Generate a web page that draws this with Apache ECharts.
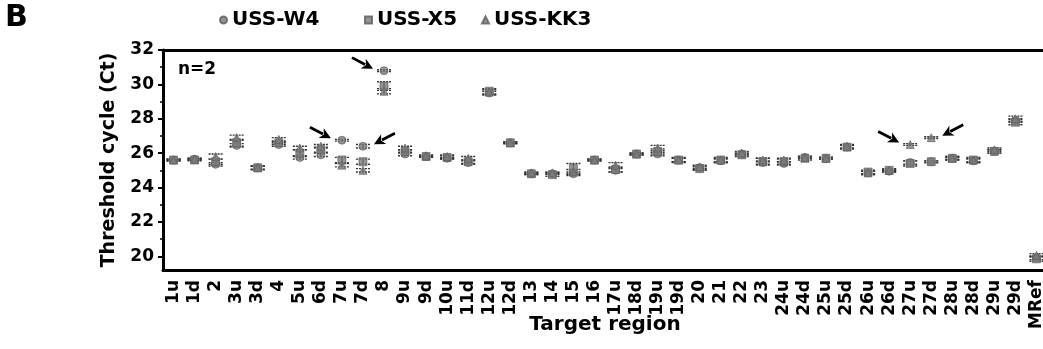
<!DOCTYPE html>
<html><head><meta charset="utf-8">
<script src="https://cdn.jsdelivr.net/npm/echarts@6/dist/echarts.min.js"></script>
<style>html,body{margin:0;padding:0;background:#fff}#c{width:1043px;height:349px}</style>
</head><body><div id="c"></div>
<script>
const categories = ['1u','1d','2','3u','3d','4','5u','6d','7u','7d','8','9u','9d','10u','11d','12u','12d','13','14','15','16','17u','18d','19u','19d','20','21','22','23','24u','24d','25u','25d','26u','26d','27u','27d','28u','28d','29u','29d','MRef'];
const w4 =   [25.6,25.65,25.35,26.45,25.15,26.5,25.75,25.9,26.75,26.4,30.8,25.95,25.8,25.7,25.45,29.5,26.6,24.8,24.8,24.8,25.6,25.0,25.95,25.95,25.6,25.15,25.55,25.95,25.45,25.4,25.75,25.7,26.35,24.85,24.95,25.45,25.5,25.7,25.55,26.1,27.9,19.9];
const x5 =   [25.6,25.6,25.5,26.6,25.15,26.6,26.0,26.2,25.6,25.5,29.9,26.1,25.8,25.75,25.5,29.6,26.6,24.8,24.75,25.1,25.6,25.05,25.95,26.1,25.6,25.1,25.6,25.9,25.5,25.5,25.7,25.7,26.35,24.9,25.0,25.4,25.5,25.7,25.6,26.1,27.8,19.85];
const kk3 =  [25.6,25.65,25.8,26.9,25.15,26.8,26.3,26.4,25.3,25.0,29.6,26.3,25.85,25.8,25.7,29.55,26.6,24.85,24.85,24.9,25.6,25.3,25.95,26.3,25.6,25.2,25.6,26.0,25.6,25.6,25.75,25.7,26.4,24.85,25.0,26.5,26.9,25.7,25.6,26.2,28.0,20.05];
const w4Err =  [0.05,0.05,0.1,0.1,0.1,0.1,0.1,0.1,0.05,0.1,0.05,0.1,0.05,0.05,0.1,0.1,0.05,0.05,0.05,0.1,0.05,0.1,0.05,0.1,0.1,0.1,0.1,0.05,0.1,0.1,0.05,0.05,0.1,0.1,0.05,0.1,0.05,0.05,0.1,0.1,0.1,0.1];
const x5Err =  [0.05,0.05,0.15,0.2,0.1,0.1,0.2,0.15,0.15,0.15,0.25,0.1,0.05,0.1,0.1,0.15,0.05,0.05,0.1,0.3,0.05,0.15,0.05,0.15,0.15,0.1,0.15,0.1,0.2,0.15,0.1,0.05,0.1,0.1,0.1,0.15,0.05,0.1,0.15,0.1,0.15,0.15];
const kk3Err = [0.05,0.05,0.15,0.15,0.1,0.1,0.1,0.1,0.1,0.1,0.15,0.1,0.05,0.1,0.1,0.15,0.05,0.05,0.05,0.15,0.05,0.15,0.05,0.15,0.1,0.1,0.1,0.1,0.1,0.1,0.05,0.05,0.1,0.1,0.05,0.05,0.05,0.1,0.1,0.1,0.15,0.1];
const yTicks = [20,22,24,26,28,30,32];
const yMinorTicks = [21,23,25,27,29,31];
const arrowCats = ['8','7u','7d','27u','27d'];
const arrowVals = [30.8,26.75,26.4,26.5,26.9];
const arrowDirs = [-1,-1,1,-1,1];

const FONT = 'DejaVu Sans';
const chart = echarts.init(document.getElementById('c'), null, {renderer:'canvas'});

function errSeries(vals, errs){
  return {
    type:'custom', silent:true, z:3, xAxisIndex:0, yAxisIndex:0,
    encode:{x:0, y:[1,2]},
    data: vals.map((v,i)=>[i, v-errs[i], v+errs[i]]),
    renderItem(params, api){
      const x = api.value(0);
      const lo = api.coord([x, api.value(1)]);
      const hi = api.coord([x, api.value(2)]);
      const hw = 7;
      const st = {stroke:'#333', lineWidth:1.4};
      return {type:'group', children:[
        {type:'line', shape:{x1:lo[0],y1:lo[1],x2:hi[0],y2:hi[1]}, style:st},
        {type:'line', shape:{x1:lo[0]-hw,y1:lo[1],x2:lo[0]+hw,y2:lo[1]}, style:Object.assign({lineDash:[2,1]},st)},
        {type:'line', shape:{x1:hi[0]-hw,y1:hi[1],x2:hi[0]+hw,y2:hi[1]}, style:Object.assign({lineDash:[2,1]},st)}
      ]};
    }
  };
}
function scatter(name, vals, symbol, size){
  return {type:'scatter', name, data: vals, symbol, symbolSize:size, z:4,
    itemStyle:{color:'#7a7a7a', borderColor:'#5a5a5a', borderWidth:0.8}};
}
const legTxt = {fontFamily:FONT, fontWeight:'bold', fontSize:20, color:'#000'};
function leg(name, left){
  return {data:[name], left, top:5, itemWidth:7, itemHeight:7, itemGap:5, textStyle:legTxt, selectedMode:false};
}

const option = {
  animation:false,
  backgroundColor:'#fff',
  grid:{left:163, top:50, bottom:79, right:-4, containLabel:false, outerBoundsMode:'none'},
  legend:[leg('USS-W4',214), leg('USS-X5',359), leg('USS-KK3',476)],
  xAxis:[{
    type:'category', data:categories, boundaryGap:true,
    axisLine:{lineStyle:{color:'#000', width:3}},
    axisTick:{alignWithLabel:true, length:5, lineStyle:{color:'#000', width:2}},
    axisLabel:{rotate:90, interval:0, margin:10, fontFamily:FONT, fontWeight:'bold', fontSize:17, color:'#000'},
    name:'Target region', nameLocation:'middle', nameGap:45, nameMoveOverlap:false,
    nameTextStyle:{fontFamily:FONT, fontWeight:'bold', fontSize:20, color:'#000'},
    splitLine:{show:false}
  },{
    type:'category', data:categories, position:'top', boundaryGap:true,
    axisLine:{lineStyle:{color:'#000', width:3}}, axisTick:{show:false}, axisLabel:{show:false}
  }],
  yAxis:[{
    type:'value', min:19.2, max:32,
    axisLine:{show:true, lineStyle:{color:'#000', width:3}},
    axisTick:{show:true, length:5, customValues:yTicks, lineStyle:{color:'#000', width:2}},
    axisLabel:{customValues:yTicks, margin:9, fontFamily:FONT, fontWeight:'bold', fontSize:17, color:'#000'},
    splitLine:{show:false},
    name:'Threshold cycle (Ct)', nameLocation:'middle', nameGap:44,
    nameTextStyle:{fontFamily:FONT, fontWeight:'bold', fontSize:19, color:'#000'}
  },{
    type:'value', min:19.2, max:32, position:'left',
    axisLine:{show:false},
    axisTick:{show:true, length:3, customValues:yMinorTicks, lineStyle:{color:'#000', width:1.5}},
    axisLabel:{show:false}, splitLine:{show:false}
  }],
  graphic:[
    {type:'text', left:5, top:3, style:{text:'B', fontFamily:FONT, fontWeight:'bold', fontSize:30, fill:'#000'}},
    {type:'text', left:178, top:61, style:{text:'n=2', fontFamily:FONT, fontWeight:'bold', fontSize:17, fill:'#000'}}
  ],
  series:[
    errSeries(w4, w4Err), errSeries(x5, x5Err), errSeries(kk3, kk3Err),
    scatter('USS-W4', w4, 'circle', 8),
    scatter('USS-X5', x5, 'rect', 8),
    scatter('USS-KK3', kk3, 'triangle', 8),
    {
      type:'custom', silent:true, z:5,
      data: arrowCats.map((c,i)=>[categories.indexOf(c), arrowVals[i], arrowDirs[i]]),
      encode:{x:0, y:1},
      renderItem(params, api){
        const p = api.coord([api.value(0), api.value(1)]);
        const d = api.value(2);
        const tip = [p[0]+d*11, p[1]-2];
        const tail = [p[0]+d*32, p[1]-13];
        let ux = tip[0]-tail[0], uy = tip[1]-tail[1];
        const len = Math.hypot(ux,uy); ux/=len; uy/=len;
        const L = 11, W = 5.5;
        const bx = tip[0]-ux*L, by = tip[1]-uy*L;
        return {type:'group', children:[
          {type:'line', shape:{x1:tail[0],y1:tail[1],x2:bx+ux*2,y2:by+uy*2}, style:{stroke:'#000', lineWidth:2.8}},
          {type:'polygon', shape:{points:[tip,[bx-uy*W,by+ux*W],[bx+ux*3,by+uy*3],[bx+uy*W,by-ux*W]]}, style:{fill:'#000'}}
        ]};
      }
    }
  ]
};
chart.setOption(option);
</script>
</body></html>
